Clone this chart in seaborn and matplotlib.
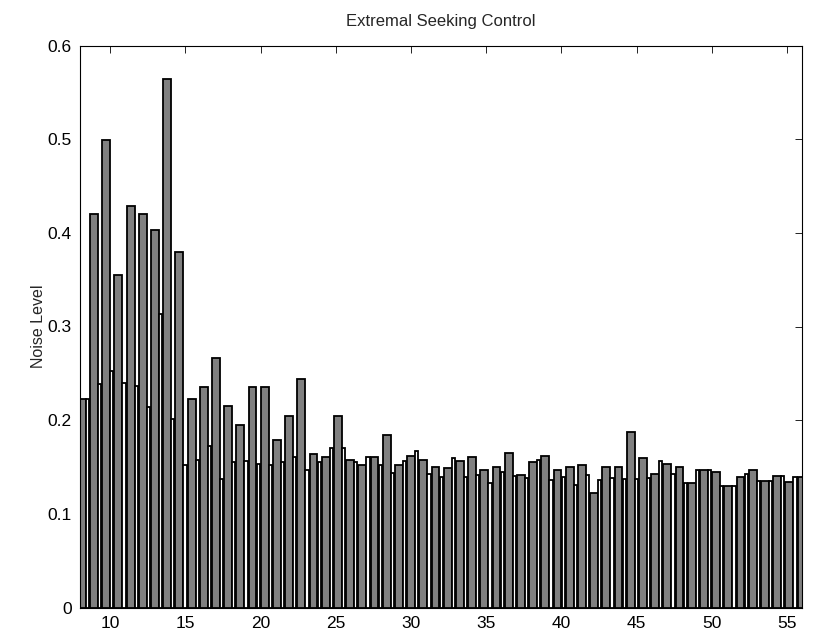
import numpy as np
import pandas as pd
import matplotlib
matplotlib.use("Agg")
import matplotlib.pyplot as plt
import seaborn as sns

# noise level per group: gray (wide) bar and white (narrow) bar
gray_vals = [0.223, 0.420, 0.499, 0.355, 0.429, 0.420, 0.403, 0.564, 0.380, 0.223,
             0.235, 0.266, 0.215, 0.195, 0.235, 0.235, 0.179, 0.204, 0.244, 0.164,
             0.161, 0.204, 0.158, 0.152, 0.161, 0.184, 0.152, 0.162, 0.158, 0.150,
             0.149, 0.156, 0.161, 0.147, 0.150, 0.165, 0.141, 0.155, 0.162, 0.147,
             0.150, 0.152, 0.122, 0.150, 0.150, 0.187, 0.160, 0.143, 0.153, 0.150,
             0.133, 0.147, 0.145, 0.130, 0.139, 0.147, 0.135, 0.140, 0.134, 0.139]
white_vals = [0.223, 0.239, 0.252, 0.240, 0.237, 0.214, 0.313, 0.201, 0.152, 0.157,
              0.172, 0.137, 0.155, 0.156, 0.153, 0.152, 0.155, 0.161, 0.147, 0.155,
              0.170, 0.170, 0.155, 0.161, 0.152, 0.144, 0.156, 0.167, 0.143, 0.139,
              0.160, 0.139, 0.141, 0.133, 0.145, 0.140, 0.138, 0.158, 0.136, 0.139,
              0.131, 0.141, 0.136, 0.138, 0.137, 0.137, 0.138, 0.156, 0.143, 0.133,
              0.147, 0.147, 0.130, 0.130, 0.143, 0.135, 0.135, 0.140, 0.139, 0.139]

x_ticks = [10, 15, 20, 25, 30, 35, 40, 45, 50, 55]
y_ticks = [0, 0.1, 0.2, 0.3, 0.4, 0.5, 0.6]

step = 0.811
x_gray = 8.12 + step * np.arange(len(gray_vals))
x_white = x_gray + 0.375

df_gray = pd.DataFrame({"x": x_gray, "noise": gray_vals})
df_white = pd.DataFrame({"x": x_white, "noise": white_vals})

sns.set_style("white")
plt.rcParams['font.family'] = ['Liberation Sans', 'DejaVu Sans']

fig = plt.figure(figsize=(8.17, 6.42), dpi=100)
ax = fig.add_axes([80 / 817, 1 - 607.5 / 642, 722 / 817, 562 / 642])

sns.barplot(data=df_gray, x="x", y="noise", native_scale=True, orient="x",
            width=0.52 / step, color="0.5", saturation=1, edgecolor="black",
            linewidth=1.3, errorbar=None, ax=ax)
sns.barplot(data=df_white, x="x", y="noise", native_scale=True, orient="x",
            width=0.22 / step, color="white", saturation=1, edgecolor="black",
            linewidth=1.3, errorbar=None, ax=ax)

ax.set_xlim(8, 56)
ax.set_ylim(0, 0.6)
ax.set_xticks(x_ticks)
ax.set_xticklabels([str(t) for t in x_ticks])
ax.set_yticks(y_ticks)
ax.set_yticklabels(["0", "0.1", "0.2", "0.3", "0.4", "0.5", "0.6"])
ax.tick_params(direction="in", length=5, width=0.6, top=True, right=True,
               labelsize=12.5, colors="black", pad=6)
for s in ax.spines.values():
    s.set_color("black")
    s.set_linewidth(0.8)
    s.set_visible(True)

ax.set_xlabel("")
ax.set_ylabel("Noise Level", fontsize=11.5, labelpad=1)
ax.set_title("Extremal Seeking Control", fontsize=12, pad=14)

fig.savefig("out.png", dpi=100)
